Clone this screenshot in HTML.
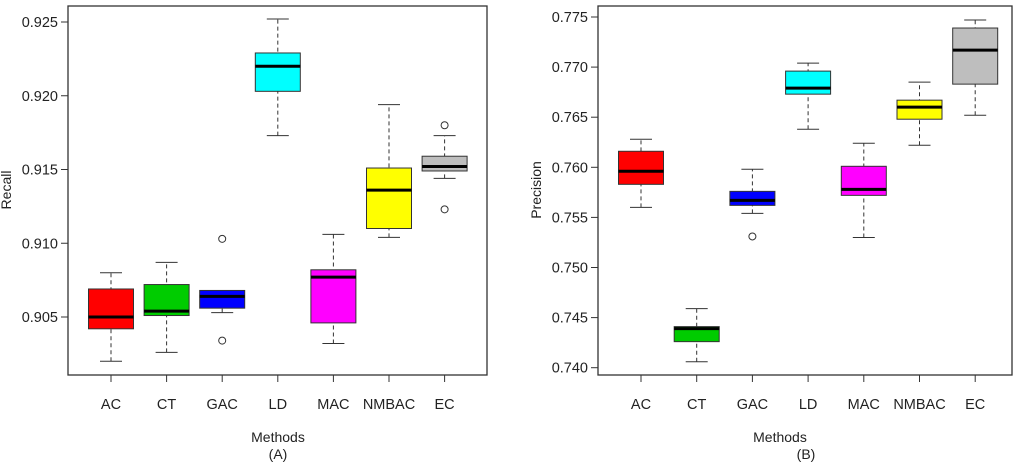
<!DOCTYPE html>
<html><head><meta charset="utf-8"><style>
body{margin:0;background:#fff;}
svg text{font-family:"Liberation Sans",Arial,sans-serif;fill:#222;}
</style></head><body>
<svg id="c" width="1024" height="465" viewBox="0 0 1024 465" xmlns="http://www.w3.org/2000/svg"></svg>
<script>
const categories=["AC","CT","GAC","LD","MAC","NMBAC","EC"];
const colors=["#ff0000","#00cc00","#0000ff","#00ffff","#ff00ff","#ffff00","#bebebe"];
// [lowWhisker, q1, median, q3, highWhisker]
const recallStats=[[0.9020,0.9042,0.9050,0.9069,0.9080],[0.9026,0.9051,0.9054,0.9072,0.9087],[0.9053,0.9056,0.9064,0.9068,0.9068],[0.9173,0.9203,0.9220,0.9229,0.9252],[0.9032,0.9046,0.9077,0.9082,0.9106],[0.9104,0.9110,0.9136,0.9151,0.9194],[0.9144,0.9149,0.9152,0.9159,0.9173]];
const recallOutliers=[[],[],[0.9103,0.9034],[],[],[],[0.9180,0.9123]];
const recallTicks=[0.905,0.910,0.915,0.920,0.925];
const precStats=[[0.7560,0.7583,0.7596,0.7616,0.7628],[0.7406,0.7426,0.7439,0.7441,0.7459],[0.7554,0.7562,0.7567,0.7576,0.7598],[0.7638,0.7673,0.7679,0.7696,0.7704],[0.7530,0.7572,0.7578,0.7601,0.7624],[0.7622,0.7648,0.7660,0.7667,0.7685],[0.7652,0.7683,0.7717,0.7739,0.7747]];
const precOutliers=[[],[],[0.7531],[],[],[],[]];
const precTicks=[0.740,0.745,0.750,0.755,0.760,0.765,0.770,0.775];

const svg=document.getElementById('c');
const NS="http://www.w3.org/2000/svg";
function mk(tag,attrs,name,parent){const e=document.createElementNS(NS,tag);for(const k in attrs)e.setAttribute(k,attrs[k]);


(parent||svg).appendChild(e);return e;}

function panel(o){
  const g=mk('g',{},o.id);
  const y=v=>o.y0+(v-o.v0)*(o.y1-o.y0)/(o.v1-o.v0);
  const x=i=>o.xFirst+i*o.step;
  mk('rect',{x:o.left,y:6,width:o.right-o.left,height:369,fill:'none',stroke:'#333','stroke-width':1.3},'plot-frame',g);
  o.ticks.forEach(t=>{
    mk('line',{x1:o.left-7,x2:o.left,y1:y(t),y2:y(t),stroke:'#333'},'y-tick',g);
    const tx=mk('text',{x:o.left-10,y:y(t)+5,'text-anchor':'end','font-size':14.5},'y-tick-label',g);tx.textContent=t.toFixed(3);
  });
  categories.forEach((c,i)=>{
    const cx=x(i),s=o.stats[i],hw=22.5;
    mk('line',{x1:cx,x2:cx,y1:375,y2:382,stroke:'#333'},'x-tick',g);
    const tl=mk('text',{x:cx,y:409,'text-anchor':'middle','font-size':14.5},'x-tick-label',g);tl.textContent=c;
    mk('line',{x1:cx,x2:cx,y1:y(s[0]),y2:y(s[4]),stroke:'#333','stroke-dasharray':'4,3'},'whisker',g);
    mk('line',{x1:cx-11,x2:cx+11,y1:y(s[0]),y2:y(s[0]),stroke:'#333'},'whisker-cap-low',g);
    mk('line',{x1:cx-11,x2:cx+11,y1:y(s[4]),y2:y(s[4]),stroke:'#333'},'whisker-cap-high',g);
    mk('rect',{x:cx-hw,y:y(s[3]),width:2*hw,height:y(s[1])-y(s[3]),fill:colors[i],stroke:'#333'},'box-'+c.toLowerCase(),g);
    mk('line',{x1:cx-hw,x2:cx+hw,y1:y(s[2]),y2:y(s[2]),stroke:'#000','stroke-width':3},'median-'+c.toLowerCase(),g);
    o.out[i].forEach(v=>mk('circle',{cx:cx,cy:y(v),r:3.5,fill:'none',stroke:'#333'},'outlier',g));
  });
  const yl=mk('text',{x:0,y:0,'text-anchor':'middle','font-size':14,transform:`translate(${o.ylx},190) rotate(-90)`},'y-axis-title',g);yl.textContent=o.ylabel;
  const xl=mk('text',{x:o.midx,y:442,'text-anchor':'middle','font-size':14},'x-axis-title',g);xl.textContent='Methods';
  const pl=mk('text',{x:o.plx,y:459,'text-anchor':'middle','font-size':14},'panel-label',g);pl.textContent=o.plabel;
}
panel({id:'recall-panel',left:68,right:487,xFirst:111,step:55.6,y0:22,v0:0.925,y1:317,v1:0.905,ticks:recallTicks,stats:recallStats,out:recallOutliers,ylabel:'Recall',ylx:11,midx:278,plx:278,plabel:'(A)'});
panel({id:'precision-panel',left:598,right:1012,xFirst:641,step:55.7,y0:17,v0:0.775,y1:367.7,v1:0.740,ticks:precTicks,stats:precStats,out:precOutliers,ylabel:'Precision',ylx:541,midx:780,plx:806,plabel:'(B)'});
</script>
</body></html>
